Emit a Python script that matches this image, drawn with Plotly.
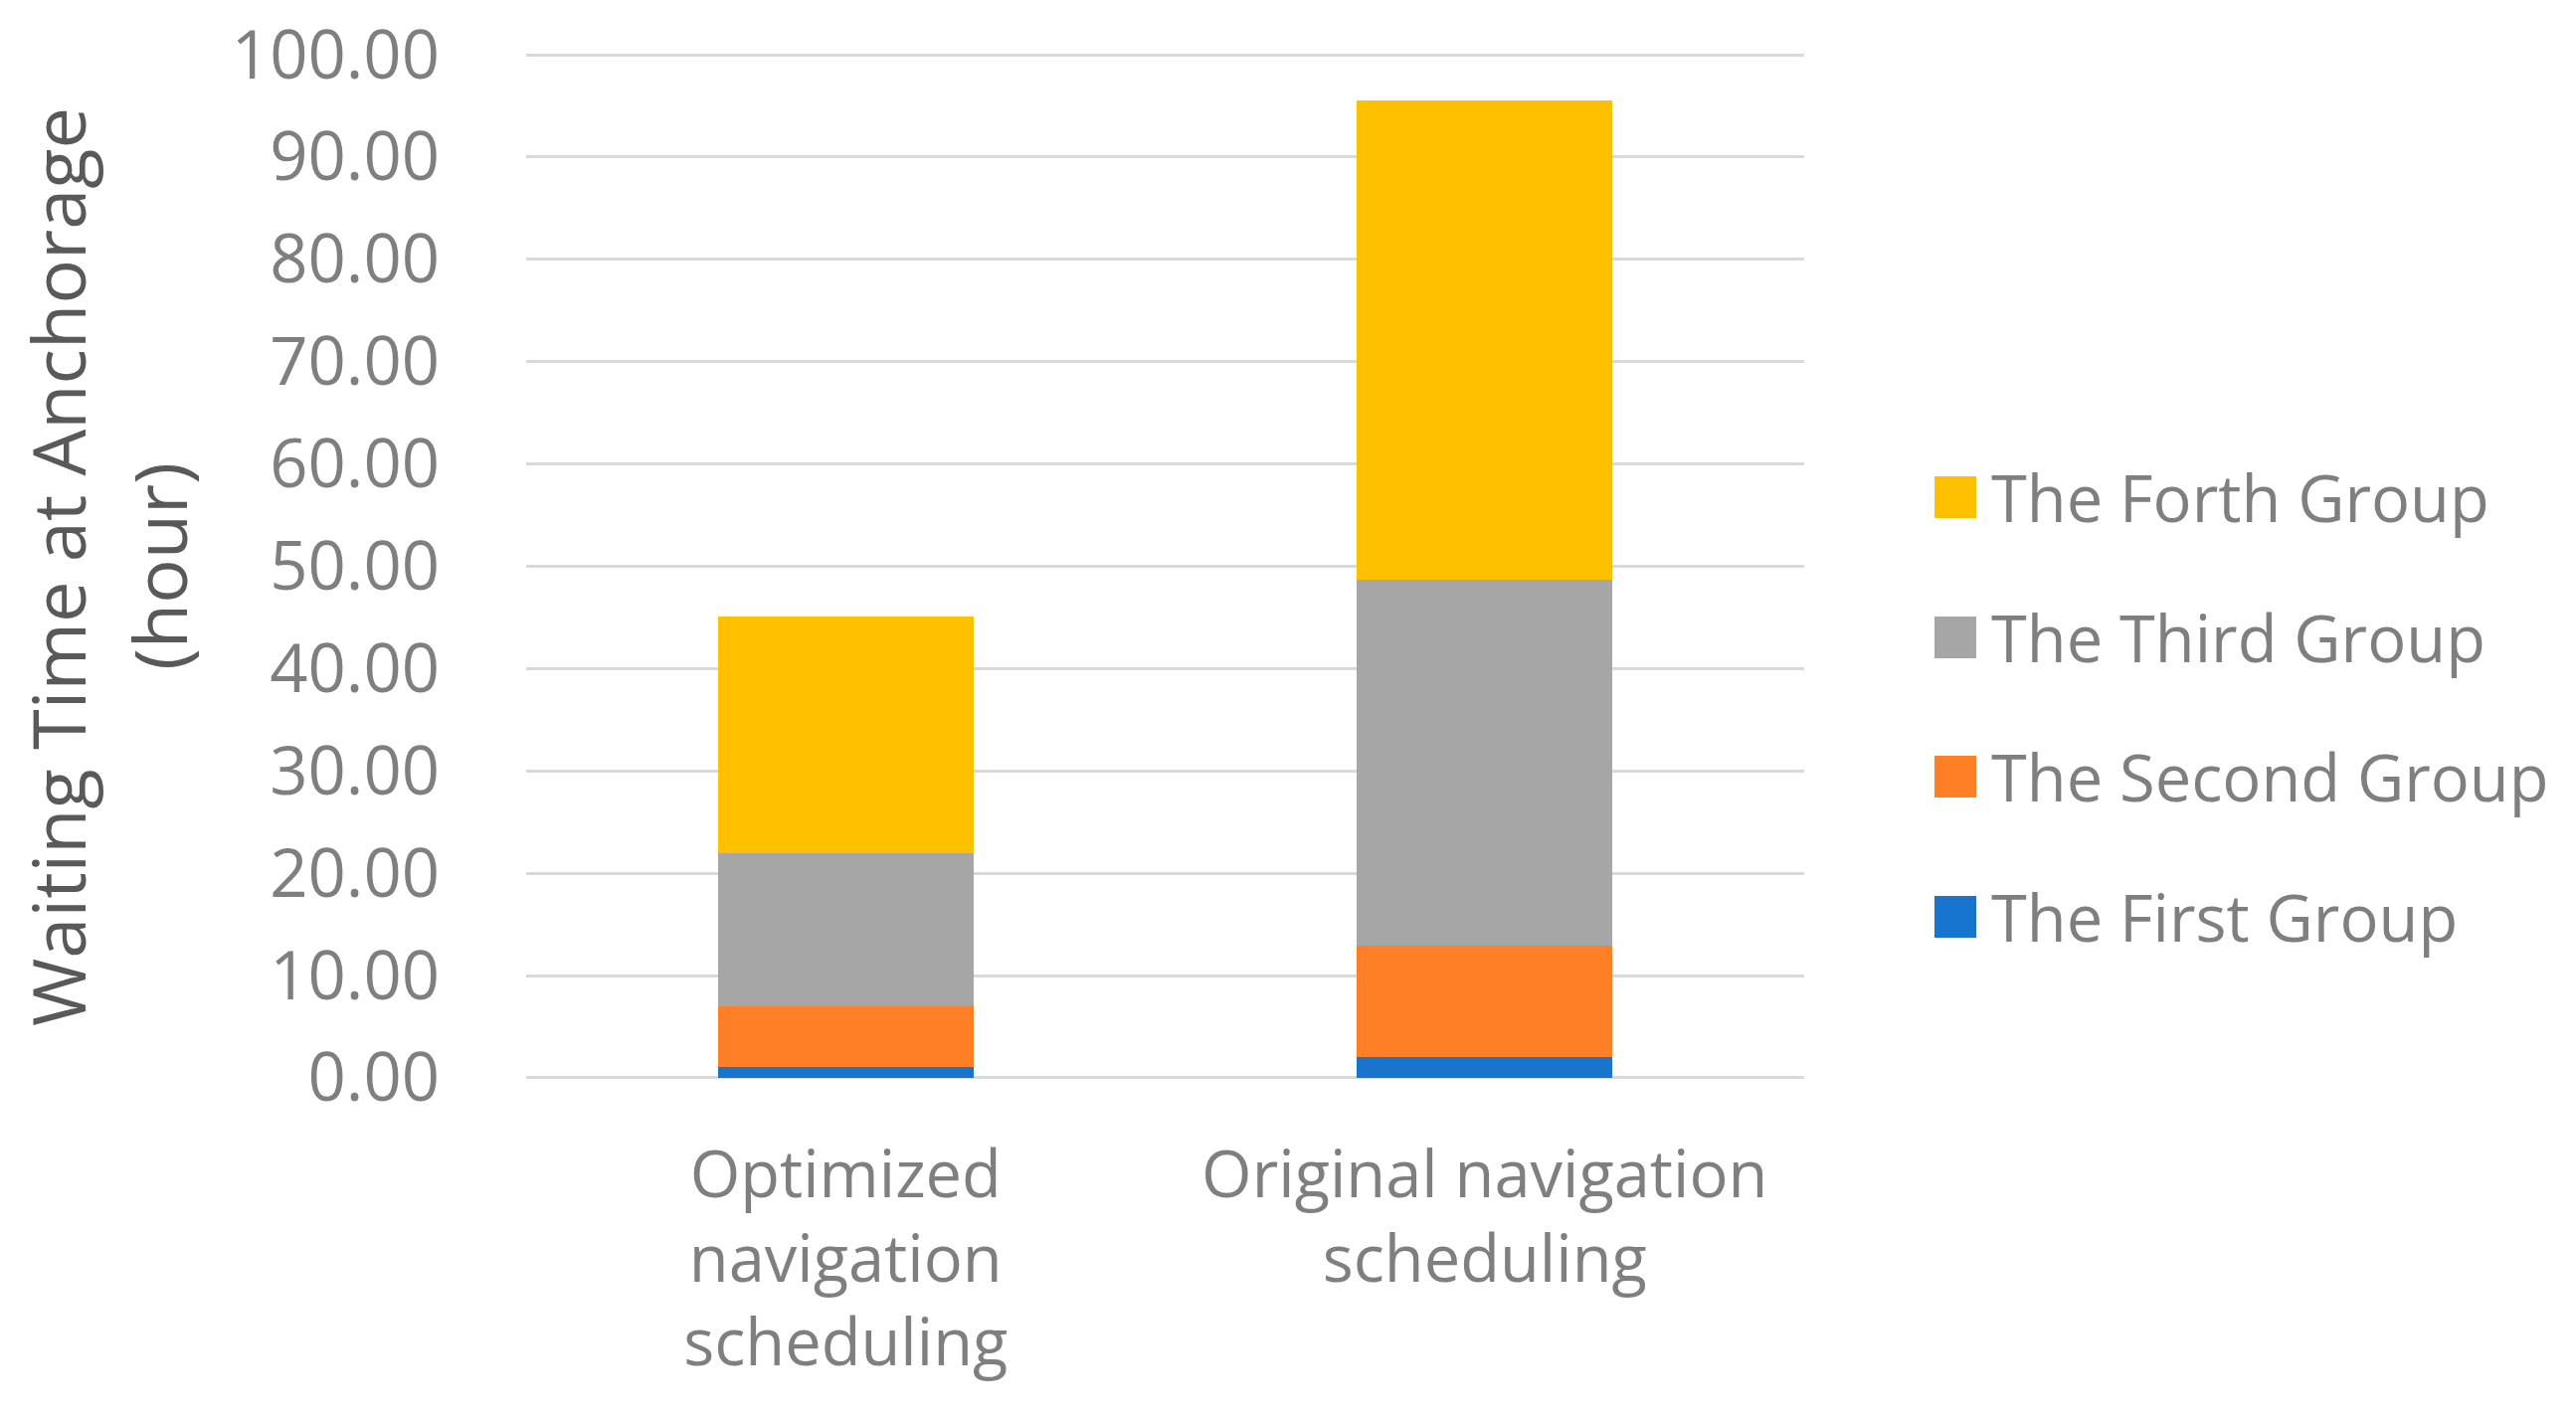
import plotly.graph_objects as go

categories = ["Optimized<br>navigation<br>scheduling", "Original navigation<br>scheduling"]
series_names = ["The First Group", "The Second Group", "The Third Group", "The Forth Group"]
first_group = [1.1, 2.0]
second_group = [5.9, 10.9]
third_group = [15.0, 35.8]
forth_group = [23.1, 46.8]
series_values = [first_group, second_group, third_group, forth_group]
colors = ["#1874CD", "#FF7F27", "#A6A6A6", "#FFC000"]
y_ticks = [0, 10, 20, 30, 40, 50, 60, 70, 80, 90, 100]

OFF = 8  # default body margin of the html page
W, H = 2590 - 2 * OFF, 1426 - 2 * OFF
Y0, Y1 = -0.2, 100.2
PX_PER = (1084 - 55) / 100.0
L, R = 529 - OFF, 1814 - OFF
T = 55 - (Y1 - 100) * PX_PER - OFF
B = 1084 + (0 - Y0) * PX_PER - OFF
FONT = "Open Sans"
TXT = "#7F7F7F"

fig = go.Figure()
for name, vals, col in zip(series_names, series_values, colors):
    fig.add_trace(go.Bar(x=categories, y=vals, name=name, marker=dict(color=col, line=dict(width=0)),
                         showlegend=False))

fig.update_layout(
    width=W, height=H, barmode="stack", bargap=0.6,
    paper_bgcolor="white", plot_bgcolor="white",
    margin=dict(l=L, r=W - R, t=T, b=H - B, pad=0, autoexpand=False),
    font=dict(family=FONT, color=TXT, size=65),
)
fig.update_yaxes(range=[Y0, Y1], tickvals=y_ticks, tickformat=".2f", showgrid=True,
                 gridcolor="#D9D9D9", gridwidth=2.5, zeroline=False, showline=False,
                 ticks="", ticklabelstandoff=86, ticklabeloverflow="allow", automargin=False,
                 tickfont=dict(size=67, color=TXT, family=FONT))
fig.update_xaxes(showgrid=False, showline=False, ticks="", ticklabelstandoff=52,
                 ticklabeloverflow="allow", automargin=False,
                 tickfont=dict(size=65, color=TXT, family=FONT))

def px_x(p):
    return (p - OFF - L) / (R - L)

def px_y(p):
    return (B - (p - OFF)) / (B - T)

# y axis title (two lines)
for txt, xc in [("Waiting Time at Anchorage", 58), ("(hour)", 160)]:
    fig.add_annotation(text=txt, xref="paper", yref="paper", x=px_x(xc), y=px_y(570),
                       xanchor="center", yanchor="middle", textangle=-90, showarrow=False,
                       font=dict(size=74, color="#595959", family=FONT))

# legend (reverse order, top to bottom)
rows_y = [500, 641, 781, 922]
for (name, col), yc in zip(list(zip(series_names, colors))[::-1], rows_y):
    fig.add_shape(type="rect", xref="paper", yref="paper",
                  x0=px_x(1945), x1=px_x(1987), y0=px_y(yc + 21), y1=px_y(yc - 21),
                  fillcolor=col, line=dict(width=0))
    fig.add_annotation(text=name, xref="paper", yref="paper", x=px_x(2000), y=px_y(yc),
                       xanchor="left", yanchor="middle", showarrow=False,
                       font=dict(size=65, color=TXT, family=FONT))

fig.write_html("out.html")
